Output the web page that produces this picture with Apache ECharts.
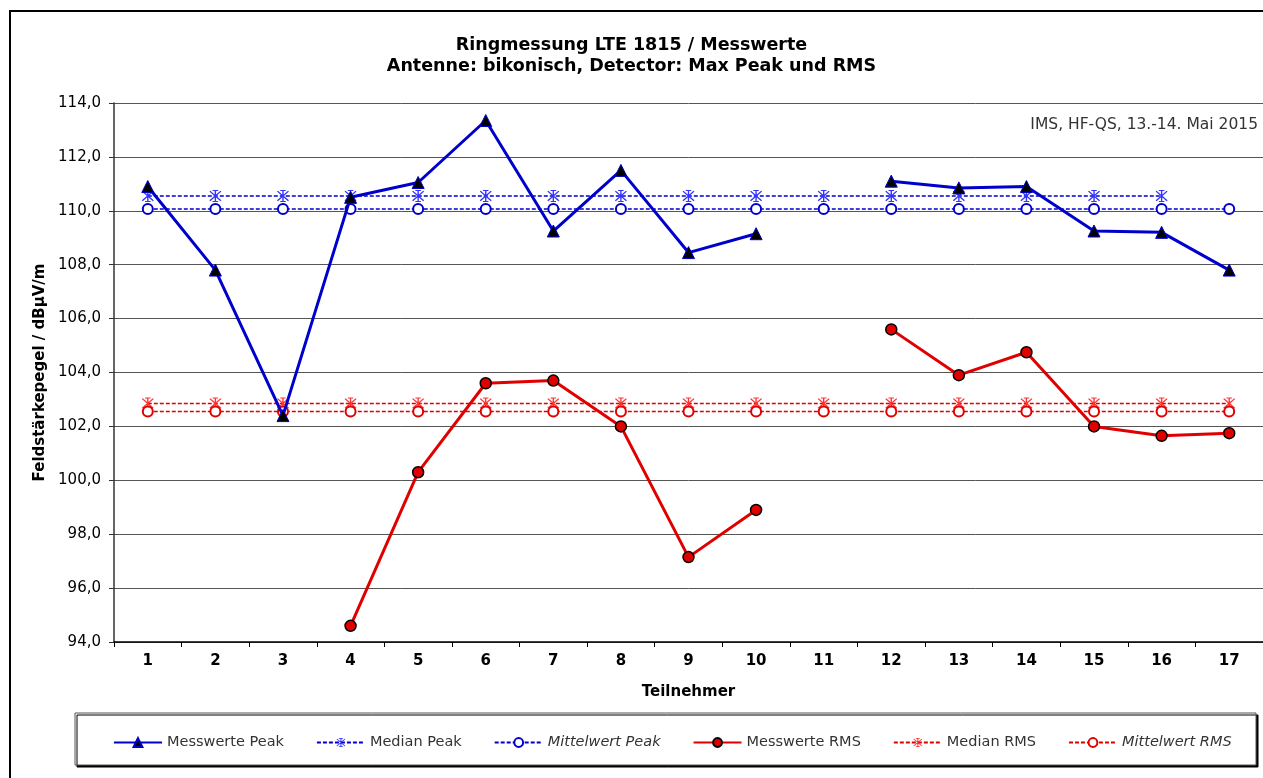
<!DOCTYPE html>
<html>
<head>
<meta charset="utf-8">
<title>Ringmessung LTE 1815</title>
<script src="https://cdn.jsdelivr.net/npm/echarts@6/dist/echarts.min.js"></script>
<style>
  html, body { margin: 0; padding: 0; background: #fff; }
  #main { width: 1263px; height: 778px; }
</style>
</head>
<body>
<div id="main"></div>
<script>
// Teilnehmer 1..17
var categories = ['1', '2', '3', '4', '5', '6', '7', '8', '9', '10', '11', '12', '13', '14', '15', '16', '17'];
var yTicks = [94, 96, 98, 100, 102, 104, 106, 108, 110, 112, 114];

// Messwerte (null = kein Wert)
var peakValues = [110.9, 107.8, 102.4, 110.5, 111.05, 113.35, 109.25, 111.5, 108.45, 109.15, null, 111.1, 110.85, 110.9, 109.25, 109.2, 107.8];
var rmsValues = [null, null, null, 94.6, 100.3, 103.6, 103.7, 102.0, 97.15, 98.9, null, 105.6, 103.9, 104.75, 102.0, 101.65, 101.75];

// Median / Mittelwert
var medianPeak = [110.55, 110.55, 110.55, 110.55, 110.55, 110.55, 110.55, 110.55, 110.55, 110.55, 110.55, 110.55, 110.55, 110.55, 110.55, 110.55, null];
var mittelwertPeak = [110.07, 110.07, 110.07, 110.07, 110.07, 110.07, 110.07, 110.07, 110.07, 110.07, 110.07, 110.07, 110.07, 110.07, 110.07, 110.07, 110.07];
var medianRms = [102.85, 102.85, 102.85, 102.85, 102.85, 102.85, 102.85, 102.85, 102.85, 102.85, 102.85, 102.85, 102.85, 102.85, 102.85, 102.85, 102.85];
var mittelwertRms = [102.55, 102.55, 102.55, 102.55, 102.55, 102.55, 102.55, 102.55, 102.55, 102.55, 102.55, 102.55, 102.55, 102.55, 102.55, 102.55, 102.55];

var seriesNames = ['Messwerte Peak', 'Median Peak', 'Mittelwert Peak', 'Messwerte RMS', 'Median RMS', 'Mittelwert RMS'];

var blue = '#0000CC';
var red = '#E00000';
var fontName = 'DejaVu Sans';

// Stern-Marker (wie Excel "*")
var starPath = 'path://M9,0 L11,0 L11,20 L9,20 Z M1.3,2.7 L2.7,1.3 L18.7,17.3 L17.3,18.7 Z M17.3,1.3 L18.7,2.7 L2.7,18.7 L1.3,17.3 Z M6,0 L14,0 L14,1.6 L6,1.6 Z M6,18.4 L14,18.4 L14,20 L6,20 Z';

var dom = document.getElementById('main');
var myChart = echarts.init(dom);

var option = {
    backgroundColor: '#fff',
    animation: false,
    title: {
        text: 'Ringmessung LTE 1815 / Messwerte\nAntenne: bikonisch, Detector: Max Peak und RMS',
        left: 'center',
        top: 30,
        textStyle: {
            fontFamily: fontName,
            fontSize: 17.5,
            fontWeight: 'bold',
            color: '#000',
            lineHeight: 21
        }
    },
    graphic: [
        {
            type: 'rect',
            shape: { x: 10, y: 11, width: 1300, height: 800 },
            style: { fill: 'none', stroke: '#000', lineWidth: 2 },
            z: -1
        },
        {
            type: 'rect',
            shape: { x: 75, y: 713, width: 1181, height: 52 },
            style: { fill: '#fff', stroke: '#555', lineWidth: 1, shadowColor: '#000', shadowOffsetX: 2, shadowOffsetY: 2, shadowBlur: 0 },
            z: 0
        },
        {
            type: 'text',
            right: 5,
            top: 117,
            style: {
                text: 'IMS, HF-QS, 13.-14. Mai 2015',
                fontFamily: fontName,
                fontSize: 15.5,
                fill: '#333'
            },
            z: 10
        }
    ],
    legend: {
        data: [
            { name: seriesNames[0] },
            { name: seriesNames[1] },
            { name: seriesNames[2], textStyle: { fontStyle: 'italic' } },
            { name: seriesNames[3] },
            { name: seriesNames[4] },
            { name: seriesNames[5], textStyle: { fontStyle: 'italic' } }
        ],
        left: 108,
        top: 730,
        itemWidth: 48,
        itemHeight: 11,
        itemGap: 32,
        textStyle: {
            fontFamily: fontName,
            fontSize: 14.5,
            color: '#333'
        },
        z: 5
    },
    grid: {
        left: 114,
        right: 0,
        top: 103,
        bottom: 136,
        containLabel: false
    },
    xAxis: {
        type: 'category',
        data: categories,
        boundaryGap: true,
        name: 'Teilnehmer',
        nameLocation: 'middle',
        nameGap: 43,
        nameTextStyle: {
            fontFamily: fontName,
            fontSize: 15,
            fontWeight: 'bold',
            color: '#000'
        },
        axisLine: { lineStyle: { color: '#000', width: 1.5 } },
        axisTick: { show: true, length: 5, lineStyle: { color: '#000' } },
        axisLabel: {
            fontFamily: fontName,
            fontSize: 15,
            fontWeight: 'bold',
            color: '#000',
            margin: 12
        },
        splitLine: { show: false }
    },
    yAxis: {
        type: 'value',
        min: yTicks[0],
        max: yTicks[yTicks.length - 1],
        interval: 2,
        name: 'Feldstärkepegel / dBµV/m',
        nameLocation: 'middle',
        nameGap: 64,
        nameTextStyle: {
            fontFamily: fontName,
            fontSize: 15,
            fontWeight: 'bold',
            color: '#000'
        },
        axisLine: { show: true, lineStyle: { color: '#333', width: 1.5 } },
        axisTick: { show: true, length: 5, lineStyle: { color: '#333' } },
        axisLabel: {
            fontFamily: fontName,
            fontSize: 15,
            color: '#000',
            margin: 13,
            formatter: function (v) {
                return v.toFixed(1).replace('.', ',');
            }
        },
        splitLine: { show: true, lineStyle: { color: '#555', width: 1 } }
    },
    series: [
        {
            name: seriesNames[0],
            type: 'line',
            data: peakValues,
            connectNulls: false,
            symbol: 'triangle',
            symbolSize: 12,
            lineStyle: { color: blue, width: 3 },
            itemStyle: { color: '#000', borderColor: blue, borderWidth: 1 },
            z: 5
        },
        {
            name: seriesNames[1],
            type: 'line',
            data: medianPeak,
            symbol: starPath,
            symbolSize: 12,
            lineStyle: { color: blue, width: 1.5, type: [4, 2] },
            itemStyle: { color: '#3333FF', borderWidth: 0 },
            z: 3
        },
        {
            name: seriesNames[2],
            type: 'line',
            data: mittelwertPeak,
            symbol: 'emptyCircle',
            symbolSize: 10,
            lineStyle: { color: blue, width: 1.5, type: [4, 2] },
            itemStyle: { color: blue, borderColor: blue, borderWidth: 1.5 },
            z: 3
        },
        {
            name: seriesNames[3],
            type: 'line',
            data: rmsValues,
            connectNulls: false,
            symbol: 'circle',
            symbolSize: 11,
            lineStyle: { color: red, width: 3 },
            itemStyle: { color: red, borderColor: '#000', borderWidth: 1.5 },
            z: 5
        },
        {
            name: seriesNames[4],
            type: 'line',
            data: medianRms,
            symbol: starPath,
            symbolSize: 12,
            lineStyle: { color: red, width: 1.5, type: [4, 2] },
            itemStyle: { color: '#FF3333', borderWidth: 0 },
            z: 3
        },
        {
            name: seriesNames[5],
            type: 'line',
            data: mittelwertRms,
            symbol: 'emptyCircle',
            symbolSize: 10,
            lineStyle: { color: red, width: 1.5, type: [4, 2] },
            itemStyle: { color: red, borderColor: red, borderWidth: 1.5 },
            z: 3
        }
    ]
};

if (option && typeof option === "object") {
    myChart.setOption(option, true);
}
</script>
</body>
</html>
